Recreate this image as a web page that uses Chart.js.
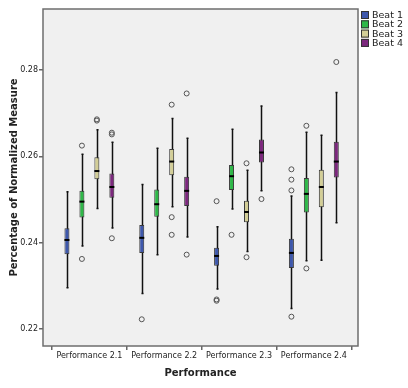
<!DOCTYPE html>
<html>
<head>
<meta charset="utf-8">
<script src="https://cdn.jsdelivr.net/npm/chart.js@4"></script>
<style>
  html, body { margin: 0; padding: 0; background: #fff; }
</style>
</head>
<body>
<canvas id="boxChart" width="408" height="388"></canvas>
<script>
// categories et series
const performances = ['Performance 2.1', 'Performance 2.2', 'Performance 2.3', 'Performance 2.4'];
const beats = ['Beat 1', 'Beat 2', 'Beat 3', 'Beat 4'];
const yTicks = [0.22, 0.24, 0.26, 0.28];

// [min, q1, mediane, q3, max] pour chaque performance
const beat1 = [[0.2295, 0.2373, 0.2406, 0.2433, 0.2518], [0.2282, 0.2376, 0.2411, 0.2441, 0.2535], [0.2292, 0.2346, 0.2369, 0.2388, 0.2437], [0.2247, 0.2341, 0.2376, 0.2409, 0.2508]];
const beat2 = [[0.2392, 0.2458, 0.2495, 0.2520, 0.2605], [0.2372, 0.2460, 0.2489, 0.2523, 0.2619], [0.2478, 0.2522, 0.2554, 0.2580, 0.2663], [0.2358, 0.2470, 0.2513, 0.2550, 0.2656]];
const beat3 = [[0.2479, 0.2547, 0.2566, 0.2598, 0.2662], [0.2483, 0.2556, 0.2588, 0.2617, 0.2688], [0.2379, 0.2447, 0.2471, 0.2497, 0.2568], [0.2359, 0.2482, 0.2529, 0.2569, 0.2649]];
const beat4 = [[0.2434, 0.2504, 0.2529, 0.2560, 0.2633], [0.2413, 0.2485, 0.2520, 0.2553, 0.2642], [0.2520, 0.2586, 0.2609, 0.2639, 0.2717], [0.2446, 0.2551, 0.2588, 0.2634, 0.2748]];

// valeurs aberrantes (cercles)
const beat1Outliers = [[], [0.2222], [0.2496, 0.2268, 0.2265], [0.2570, 0.2546, 0.2521, 0.2228]];
const beat2Outliers = [[0.2625, 0.2362], [], [0.2418], [0.2671, 0.2340]];
const beat3Outliers = [[0.2686, 0.2683], [0.2720, 0.2459, 0.2418], [0.2584, 0.2366], []];
const beat4Outliers = [[0.2655, 0.2651, 0.2410], [0.2746, 0.2372], [0.2501], [0.2819]];

const colors = ['#3e58ac', '#2eb848', '#d3ce97', '#7c287d'];
const offsets = [-0.3, -0.1, 0.1, 0.3];
const font = 'DejaVu Sans';

const boxes = [beat1, beat2, beat3, beat4];
const outliers = [beat1Outliers, beat2Outliers, beat3Outliers, beat4Outliers];

// les boites = barres flottantes q1..q3
const datasets = beats.map((name, b) => ({
  type: 'bar',
  label: name,
  data: boxes[b].map((s, p) => ({ x: p + offsets[b], y: [s[1], s[3]] })),
  backgroundColor: colors[b],
  borderColor: '#3a3a3a',
  borderWidth: 1,
  borderSkipped: false,
  grouped: false,
  maxBarThickness: 5
}));

const outlierPoints = [];
outliers.forEach((list, b) => {
  list.forEach((vals, p) => {
    vals.forEach(v => outlierPoints.push({ x: p + offsets[b], y: v }));
  });
});
datasets.push({
  type: 'scatter',
  label: 'outliers',
  data: outlierPoints,
  pointRadius: 2.5,
  pointBorderColor: '#555',
  pointBackgroundColor: 'rgba(0,0,0,0)',
  pointBorderWidth: 1
});

// fond gris, cadre, moustaches, medianes et legende
const boxPlugin = {
  id: 'boxPlugin',
  beforeDraw(chart) {
    const { ctx, chartArea: a } = chart;
    ctx.save();
    ctx.fillStyle = '#f0f0f0';
    ctx.fillRect(a.left, a.top, a.right - a.left, a.bottom - a.top);
    ctx.restore();
  },
  beforeDatasetsDraw(chart) {
    const { ctx, scales: { x, y } } = chart;
    ctx.save();
    ctx.strokeStyle = '#111';
    ctx.lineWidth = 1.5;
    boxes.forEach((serie, b) => {
      serie.forEach((s, p) => {
        const px = Math.round(x.getPixelForValue(p + offsets[b])) + 0.5;
        ctx.beginPath();
        ctx.moveTo(px, y.getPixelForValue(s[0]));
        ctx.lineTo(px, y.getPixelForValue(s[4]));
        ctx.stroke();
        ctx.beginPath();
        ctx.moveTo(px - 1, y.getPixelForValue(s[0]));
        ctx.lineTo(px + 1, y.getPixelForValue(s[0]));
        ctx.moveTo(px - 1, y.getPixelForValue(s[4]));
        ctx.lineTo(px + 1, y.getPixelForValue(s[4]));
        ctx.stroke();
      });
    });
    ctx.restore();
  },
  afterDatasetsDraw(chart) {
    const { ctx, scales: { x, y } } = chart;
    ctx.save();
    ctx.fillStyle = '#000';
    boxes.forEach((serie, b) => {
      const bars = chart.getDatasetMeta(b).data;
      serie.forEach((s, p) => {
        const bar = bars[p];
        const py = y.getPixelForValue(s[2]);
        ctx.fillRect(bar.x - bar.width / 2, py - 1, bar.width, 2);
      });
    });
    ctx.restore();
  },
  afterDraw(chart) {
    const { ctx, chartArea: a } = chart;
    ctx.save();
    ctx.strokeStyle = '#6e6e6e';
    ctx.lineWidth = 1.5;
    ctx.strokeRect(a.left, a.top, a.right - a.left, a.bottom - a.top);
    // legende a droite
    ctx.font = '9.5px "' + font + '"';
    ctx.textBaseline = 'middle';
    ctx.lineWidth = 1;
    beats.forEach((name, b) => {
      const top = 11 + b * 9.3;
      ctx.fillStyle = chart.data.datasets[b].backgroundColor;
      ctx.fillRect(361, top, 8, 8);
      ctx.strokeStyle = '#333';
      ctx.strokeRect(361.5, top + 0.5, 7, 7);
      ctx.fillStyle = '#222';
      ctx.fillText(name, 372, top + 4.5);
    });
    ctx.restore();
  }
};

const ctx = document.getElementById('boxChart').getContext('2d');
new Chart(ctx, {
  type: 'bar',
  data: { datasets: datasets },
  options: {
    responsive: false,
    animation: false,
    layout: { padding: { top: 9, right: 50, left: 0, bottom: 0 } },
    plugins: {
      legend: { display: false },
      tooltip: { enabled: false }
    },
    scales: {
      x: {
        type: 'linear',
        min: -0.62,
        max: 3.59,
        offset: false,
        afterBuildTicks: s => { s.ticks = performances.map((_, i) => ({ value: i })); },
        afterFit: s => { s.height = 42; },
        ticks: {
          callback: (v, i) => performances[i],
          font: { family: font, size: 8 },
          color: '#222',
          padding: 1,
          maxRotation: 0,
          autoSkip: false
        },
        grid: { drawOnChartArea: false, tickLength: 4, color: '#666', lineWidth: 1.5 },
        border: { display: false },
        title: {
          display: true,
          text: 'Performance',
          font: { family: font, size: 10, weight: 'bold' },
          color: '#222',
          padding: { top: 0, bottom: 9 }
        }
      },
      y: {
        min: 0.216,
        max: 0.2942,
        afterBuildTicks: s => { s.ticks = yTicks.map(v => ({ value: v })); },
        afterFit: s => { s.width = 43; },
        ticks: {
          callback: v => v.toFixed(2),
          font: { family: font, size: 8 },
          color: '#222',
          padding: 1
        },
        grid: { drawOnChartArea: false, tickLength: 4, color: '#666', lineWidth: 1.5 },
        border: { display: false },
        title: {
          display: true,
          text: 'Percentage of Normalized Measure',
          font: { family: font, size: 10, weight: 'bold' },
          color: '#222',
          padding: { top: 8, bottom: 0 }
        }
      }
    }
  },
  plugins: [boxPlugin]
});
</script>
</body>
</html>
